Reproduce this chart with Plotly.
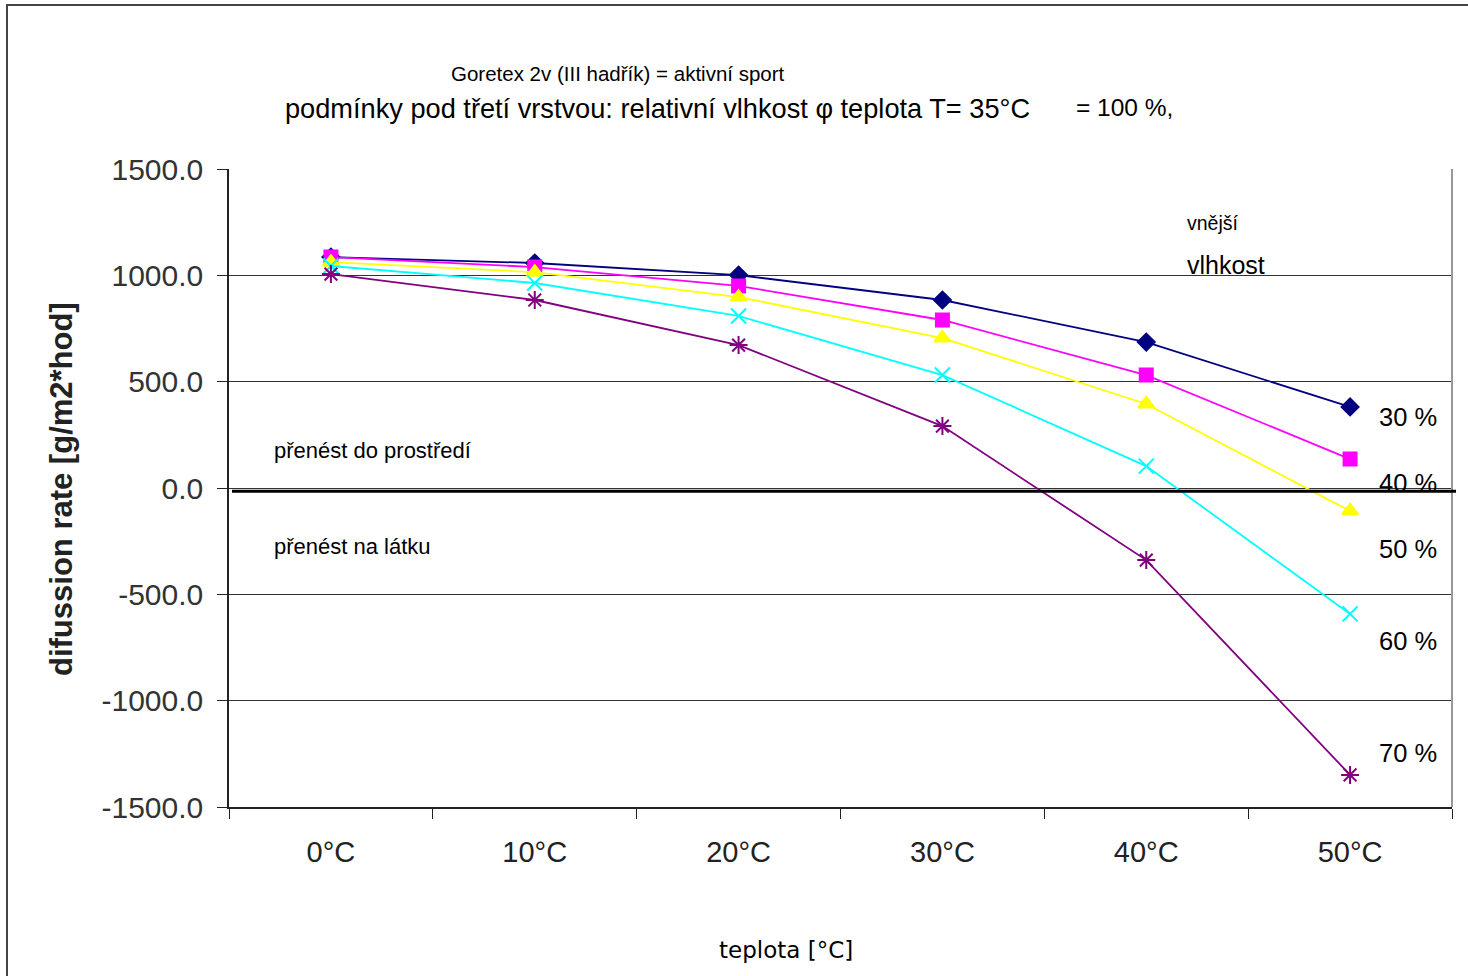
import plotly.graph_objects as go

categories = ["0°C", "10°C", "20°C", "30°C", "40°C", "50°C"]
series_names = ["30 %", "40 %", "50 %", "60 %", "70 %"]
rh30 = [1086, 1058, 1001, 884, 686, 381]
rh40 = [1086, 1039, 950, 790, 531, 136]
rh50 = [1062, 1015, 898, 705, 395, -108]
rh60 = [1044, 964, 809, 531, 103, -592]
rh70 = [1006, 884, 672, 291, -339, -1349]
y_ticks = [-1500, -1000, -500, 0, 500, 1000, 1500]
y_ticktext = ["-1500.0", "-1000.0", "-500.0", "0.0", "500.0", "1000.0", "1500.0"]

W, H = 1468, 976
L, R, T, B = 229, 16, 169, 169
PW, PH = W - L - R, H - T - B

def px(x):
    return (x - L) / PW

def py(y):
    return (H - B - y) / PH

styles = [
    dict(color="#000080", symbol="diamond", size=13, lw=1.8),
    dict(color="#FF00FF", symbol="square", size=13, lw=1.8),
    dict(color="#FFFF00", symbol="triangle-up", size=14, lw=1.8),
    dict(color="#00FFFF", symbol="x-thin-open", size=15, lw=1.8),
    dict(color="#800080", symbol="asterisk-open", size=15, lw=1.8),
]

fig = go.Figure()
for name, vals, st in zip(series_names, [rh30, rh40, rh50, rh60, rh70], styles):
    fig.add_trace(go.Scatter(
        x=categories, y=vals, name=name, mode="lines+markers",
        line=dict(color=st["color"], width=st["lw"]),
        marker=dict(symbol=st["symbol"], size=st["size"], color=st["color"],
                    line=dict(color=st["color"], width=2)),
        cliponaxis=False,
    ))

font_main = "Liberation Sans, Arial, sans-serif"

fig.update_layout(
    width=W, height=H,
    margin=dict(l=L, r=R, t=T, b=B),
    paper_bgcolor="white", plot_bgcolor="white",
    showlegend=False,
    font=dict(family=font_main, color="#000"),
    xaxis=dict(
        type="category", range=[-0.5, 5.5],
        showgrid=False, showline=True, linecolor="#222", linewidth=1.5,
        ticks="outside", tickson="boundaries", ticklen=10, tickcolor="#222",
        tickfont=dict(family=font_main, size=29, color="#222"),
        ticklabelstandoff=18,
        zeroline=False,
    ),
    yaxis=dict(
        range=[-1500, 1500], tickvals=y_ticks, ticktext=y_ticktext,
        showgrid=True, gridcolor="#333", gridwidth=1,
        showline=True, linecolor="#222", linewidth=1.5,
        ticks="outside", ticklen=10, tickcolor="#222",
        tickfont=dict(family=font_main, size=30, color="#333"),
        ticklabelstandoff=8,
        zeroline=False,
    ),
)

shapes = [
    # outer frame
    dict(type="rect", xref="paper", yref="paper",
         x0=px(7), x1=px(W + 20), y0=py(H + 20), y1=py(5),
         line=dict(color="#444", width=2), fillcolor="rgba(0,0,0,0)", layer="below"),
    # right edge of plot area
    dict(type="line", xref="paper", yref="paper", x0=1, x1=1, y0=0, y1=1,
         line=dict(color="#999", width=2)),
    # thick line near zero
    dict(type="line", xref="paper", yref="y", x0=px(232), x1=px(1456), y0=-15, y1=-15,
         line=dict(color="#000", width=3)),
]
fig.update_layout(shapes=shapes)

def ann(text, x, y, size, xanchor="left", family=font_main, **kw):
    return dict(text=text, xref="paper", yref="paper", x=px(x), y=py(y),
                xanchor=xanchor, yanchor="middle", showarrow=False,
                font=dict(family=family, size=size, color="#000"), **kw)

annotations = [
    ann("Goretex 2v (III hadřík) = aktivní sport", 449, 73, 20.5),
    ann("podmínky pod třetí vrstvou: relativní vlhkost φ teplota T= 35°C", 283, 108, 27.2),
    ann("= 100 %,", 1074, 107, 24.5),
    ann("vnější", 1185, 223, 19.5),
    ann("vlhkost", 1185, 265, 25),
    ann("30 %", 1377, 417, 25.5),
    ann("40 %", 1377, 483, 25.5),
    ann("50 %", 1377, 549, 25.5),
    ann("60 %", 1377, 641, 25.5),
    ann("70 %", 1377, 753, 25.5),
    ann("přenést do prostředí", 272, 450, 22),
    ann("přenést na látku", 272, 546, 22),
    ann("teplota [°C]", 786, 950, 23, xanchor="center", family="DejaVu Sans"),
    dict(text="<b>difussion rate [g/m2*hod]</b>", xref="paper", yref="paper",
         x=px(62), y=py(489), xanchor="center", yanchor="middle", textangle=-90,
         showarrow=False, font=dict(family=font_main, size=31, color="#222")),
]
fig.update_layout(annotations=annotations)

fig.write_html("out.html")
